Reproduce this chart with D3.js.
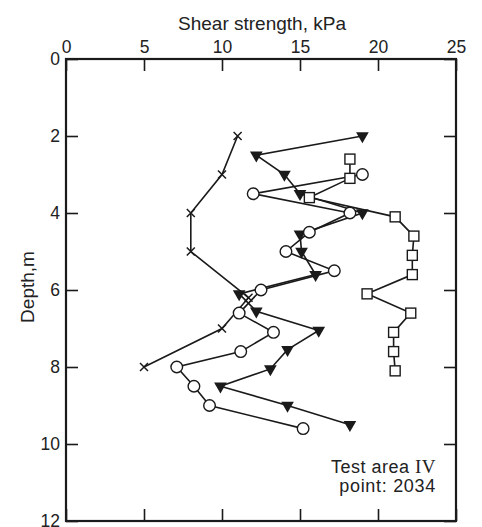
<!DOCTYPE html>
<html>
<head>
<meta charset="utf-8">
<script src="https://cdn.jsdelivr.net/npm/d3@7"></script>
<style>
  html, body { margin: 0; padding: 0; background: #fff; }
  svg { display: block; }
  text { font-family: "Liberation Sans", Arial, sans-serif; fill: #222; }
</style>
</head>
<body>
<svg id="chart" width="482" height="527"></svg>
<script>
// Shear strength (kPa) against depth (m), four profiles
const crossStrength = [11, 10, 8, 8, 11.7, 10, 5];
const crossDepth    = [2, 3, 4, 5, 6.2, 7, 8];

const triStrength = [19, 12.2, 14, 15, 19, 15, 15.1, 16, 11.1, 12.2, 16.2, 14.2, 13.1, 9.9, 14.2, 18.2];
const triDepth    = [2, 2.5, 3, 3.5, 4, 4.55, 5, 5.6, 6.1, 6.55, 7.05, 7.55, 8.05, 8.5, 9, 9.5];

const circStrength = [19, 12, 18.2, 15.6, 14.1, 17.2, 12.5, 11.1, 13.3, 11.2, 7.1, 8.2, 9.2, 15.2];
const circDepth    = [3, 3.5, 4, 4.5, 5, 5.5, 6, 6.6, 7.1, 7.6, 8, 8.5, 9, 9.6];

const sqStrength = [18.2, 18.2, 15.6, 21.1, 22.3, 22.2, 22.2, 19.3, 22.1, 21, 21, 21.1];
const sqDepth    = [2.6, 3.1, 3.6, 4.1, 4.6, 5.1, 5.6, 6.1, 6.6, 7.1, 7.6, 8.1];

const xTicks = [0, 5, 10, 15, 20, 25];
const yTicks = [0, 2, 4, 6, 8, 10, 12];

const svg = d3.select("#chart");
const plotL = 66, plotR = 456, plotT = 59, plotB = 521;

const x = d3.scaleLinear().domain([0, 25]).range([plotL, plotR]);
const y = d3.scaleLinear().domain([0, 12]).range([plotT, plotB]);

const ink = "#1a1a1a";

// Axes with inward ticks
const axTop = svg.append("g").attr("transform", `translate(0,${plotT})`)
  .call(d3.axisTop(x).tickValues(xTicks).tickSizeInner(-12).tickSizeOuter(0).tickPadding(6));
const axBottom = svg.append("g").attr("transform", `translate(0,${plotB})`)
  .call(d3.axisBottom(x).tickValues(xTicks).tickSizeInner(-12).tickSizeOuter(0).tickFormat(""));
const axLeft = svg.append("g").attr("transform", `translate(${plotL},0)`)
  .call(d3.axisLeft(y).tickValues(yTicks).tickSizeInner(-12).tickSizeOuter(0).tickPadding(6));
const axRight = svg.append("g").attr("transform", `translate(${plotR},0)`)
  .call(d3.axisRight(y).tickValues(yTicks).tickSizeInner(-12).tickSizeOuter(0).tickFormat(""));

[axTop, axBottom, axLeft, axRight].forEach(g => {
  g.select(".domain").remove();
  g.selectAll(".tick line").attr("stroke", ink).attr("stroke-width", 1.6);
  g.selectAll(".tick text").attr("font-size", 17.5).attr("fill", "#222")
    .attr("font-family", "Liberation Sans, Arial, sans-serif");
});

// Frame
svg.append("rect")
  .attr("x", plotL).attr("y", plotT)
  .attr("width", plotR - plotL).attr("height", plotB - plotT)
  .attr("fill", "none").attr("stroke", ink).attr("stroke-width", 2.2);

// Axis titles
svg.append("text")
  .attr("x", 262).attr("y", 30)
  .attr("text-anchor", "middle").attr("font-size", 19)
  .text("Shear strength, kPa");

svg.append("text")
  .attr("transform", "translate(34,287) rotate(-90)")
  .attr("text-anchor", "middle").attr("font-size", 19)
  .text("Depth,m");

// Profile lines
const line = d3.line().x(d => x(d[0])).y(d => y(d[1]));
function pts(s, d) { return s.map((v, i) => [v, d[i]]); }

const series = [
  pts(crossStrength, crossDepth),
  pts(triStrength, triDepth),
  pts(circStrength, circDepth),
  pts(sqStrength, sqDepth)
];
series.forEach(p => {
  svg.append("path").attr("d", line(p))
    .attr("fill", "none").attr("stroke", ink).attr("stroke-width", 1.6);
});

// Markers
svg.append("g").selectAll("path")
  .data(series[0]).join("path")
  .attr("d", d => {
    const cx = x(d[0]), cy = y(d[1]), r = 4;
    return `M${cx - r},${cy - r}L${cx + r},${cy + r}M${cx - r},${cy + r}L${cx + r},${cy - r}`;
  })
  .attr("stroke", ink).attr("stroke-width", 1.5).attr("fill", "none");

const tri = d3.symbol().type(d3.symbolTriangle).size(70);
svg.append("g").selectAll("path")
  .data(series[1]).join("path")
  .attr("d", tri)
  .attr("transform", d => `translate(${x(d[0])},${y(d[1])}) rotate(180)`)
  .attr("fill", ink);

svg.append("g").selectAll("circle")
  .data(series[2]).join("circle")
  .attr("cx", d => x(d[0])).attr("cy", d => y(d[1])).attr("r", 5.8)
  .attr("fill", "#fff").attr("stroke", ink).attr("stroke-width", 1.4);

svg.append("g").selectAll("rect")
  .data(series[3]).join("rect")
  .attr("x", d => x(d[0]) - 5).attr("y", d => y(d[1]) - 5)
  .attr("width", 10).attr("height", 10)
  .attr("fill", "#fff").attr("stroke", ink).attr("stroke-width", 1.4);

// Site note
const note = svg.append("text").attr("text-anchor", "end").attr("font-size", 18)
  .attr("letter-spacing", 0.5);
note.append("tspan").attr("x", 436).attr("y", 473).text("Test area ")
  .append("tspan").attr("font-family", "Liberation Serif, Times New Roman, serif")
  .attr("font-size", 19).text("IV");
svg.append("text").attr("text-anchor", "end").attr("font-size", 18)
  .attr("letter-spacing", 0.7)
  .attr("x", 436).attr("y", 492).text("point: 2034");
</script>
</body>
</html>
